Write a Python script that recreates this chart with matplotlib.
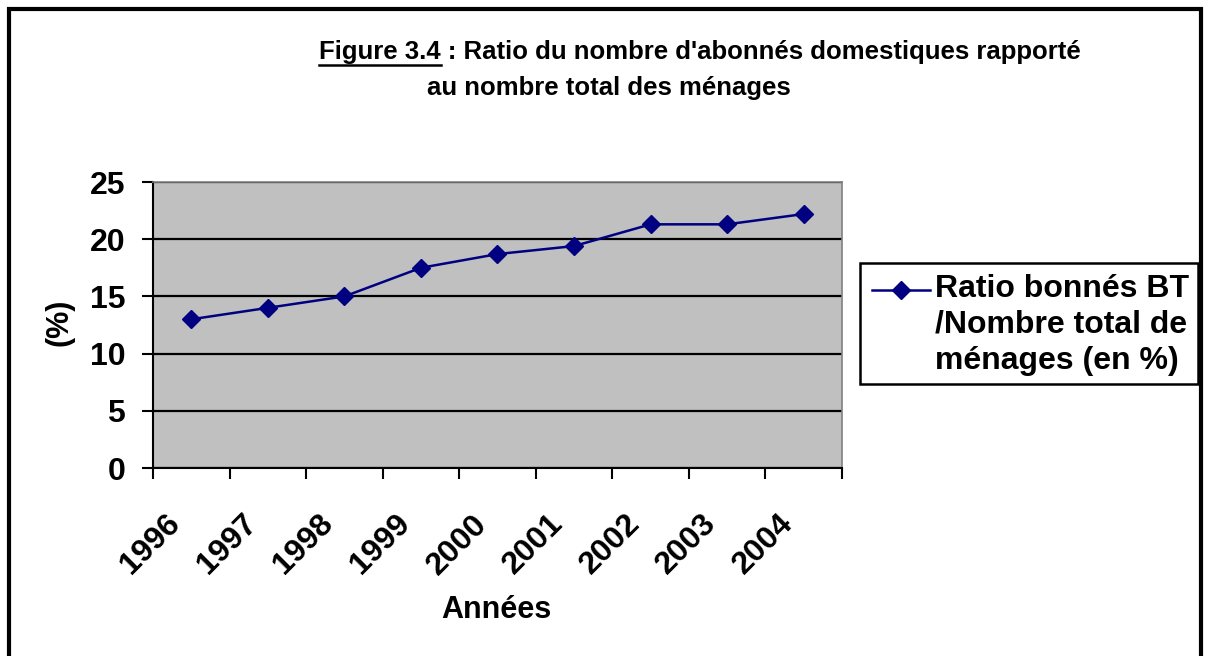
import numpy as np
import matplotlib.pyplot as plt
from matplotlib.lines import Line2D
from matplotlib.patches import Rectangle
from matplotlib.transforms import ScaledTranslation

plt.rcParams['font.family'] = ['Liberation Sans', 'DejaVu Sans']
plt.rcParams['font.weight'] = 'bold'

years = ['1996', '1997', '1998', '1999', '2000', '2001', '2002', '2003', '2004']
ratio = [13.0, 14.0, 15.0, 17.5, 18.7, 19.4, 21.3, 21.3, 22.2]
series_label = 'Ratio bonnés BT\n/Nombre total de\nménages (en %)'
title_1 = 'Figure 3.4 : Ratio du nombre d\'abonnés domestiques rapporté'
title_2 = 'au nombre total des ménages'

W, H = 1208, 656
fig = plt.figure(figsize=(W / 100, H / 100), dpi=100)
ax = fig.add_axes([153 / W, 1 - 468 / H, (842 - 153) / W, (468 - 182) / H])

navy = '#000080'
x = np.arange(len(years))
ax.plot(x, ratio, color=navy, lw=1.8, marker='D', ms=9.5, mfc=navy, mec=navy)

ax.set_facecolor('#C0C0C0')
ax.set_xlim(-0.5, len(years) - 0.5)
ax.set_ylim(0, 25)
ax.set_yticks(range(0, 26, 5))
ax.yaxis.grid(True, color='black', lw=1.6)
ax.set_axisbelow(True)

# ticks at category boundaries, labels at category centres
ax.set_xticks(np.arange(-0.5, len(years), 1))
ax.set_xticklabels([])
ax.set_xticks(x, minor=True)
ax.set_xticklabels(years, minor=True, rotation=45, ha='right', va='center',
                   rotation_mode='anchor', fontsize=23, fontweight='bold')
ax.tick_params(axis='x', which='minor', length=0, pad=37)
ax.tick_params(axis='x', which='major', length=8, width=1.5, direction='out')
ax.tick_params(axis='y', length=8, width=1.5, direction='out', labelsize=23, pad=12)
shift = ScaledTranslation(-11 / 72, 0, fig.dpi_scale_trans)
for lab in ax.get_xticklabels(minor=True):
    lab.set_transform(lab.get_transform() + shift)

for s in ['left', 'bottom']:
    ax.spines[s].set_color('black')
    ax.spines[s].set_linewidth(1.5)
for s in ['top', 'right']:
    ax.spines[s].set_color('#808080')
    ax.spines[s].set_linewidth(1.2)

fig.text(496 / W, 1 - 610 / H, 'Années', ha='center', va='center',
         fontsize=22, fontweight='bold')
fig.text(60 / W, 1 - 322 / H, '(%)', ha='center', va='center', rotation=90,
         fontsize=22, fontweight='bold')

# title with underlined "Figure 3.4"
fs_t = 18.5
t1 = fig.text(700 / W, 1 - 52 / H, title_1, ha='center', va='center',
              fontsize=fs_t, fontweight='bold')
fig.text(609 / W, 1 - 88 / H, title_2, ha='center', va='center',
         fontsize=fs_t, fontweight='bold')
r = fig.canvas.get_renderer()
bb = t1.get_window_extent(r)
tmp = fig.text(0, 0, 'Figure 3.4', fontsize=fs_t, fontweight='bold')
wfig = tmp.get_window_extent(r).width
tmp.remove()
uy = bb.y0 - 1
fig.add_artist(Line2D([bb.x0 / W, (bb.x0 + wfig) / W], [uy / H, uy / H],
                      color='black', lw=1.8, transform=fig.transFigure))

# legend box
fig.add_artist(Rectangle((860 / W, 1 - 384 / H), (1198 - 860) / W, (384 - 263) / H,
                         transform=fig.transFigure, fill=False, ec='black', lw=1.8))
fig.add_artist(Line2D([872 / W, 930 / W], [1 - 290 / H, 1 - 290 / H], color=navy, lw=1.8,
                      transform=fig.transFigure))
fig.add_artist(Line2D([901 / W], [1 - 290 / H], color=navy, marker='D', ms=9.5,
                      transform=fig.transFigure))
fig.text(935 / W, 1 - 274 / H, series_label, ha='left', va='top', fontsize=23,
         fontweight='bold', linespacing=1.25)

# outer frame
fig.add_artist(Rectangle((9 / W, -0.1), (1201 - 9) / W, 1.1 - 9 / H,
                         transform=fig.transFigure, fill=False, ec='black', lw=3))

fig.savefig('out.png', dpi=100)
